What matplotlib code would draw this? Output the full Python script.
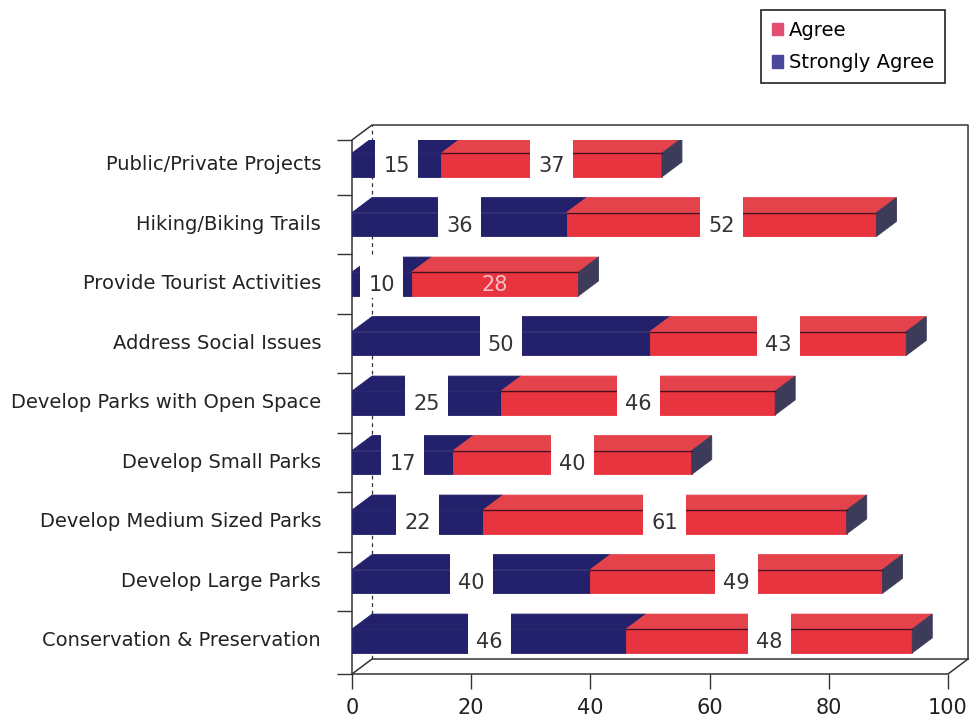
import matplotlib.pyplot as plt
import matplotlib.patches as mpatches

# Data (bottom row first)
categories = ['Conservation & Preservation', 'Develop Large Parks', 'Develop Medium Sized Parks',
              'Develop Small Parks', 'Develop Parks with Open Space', 'Address Social Issues',
              'Provide Tourist Activities', 'Hiking/Biking Trails', 'Public/Private Projects']
strongly_agree = [46, 40, 22, 17, 25, 50, 10, 36, 15]
agree = [48, 49, 61, 40, 46, 43, 28, 52, 37]
plain_agree_labels = ['Provide Tourist Activities']  # label drawn without white box

NAVY = '#23216b'
RED = '#e8343e'
RED_TOP = '#e5434c'
SIDE = '#3c3b5a'
FRAME = '#333333'

# pseudo-3D depth in data units
DX = 3.36
DY = 0.252
H = 0.2
Y0, Y1 = -0.555, 8.42

fig = plt.figure(figsize=(9.69, 7.22), dpi=100)
ax = fig.add_axes([352/969, 1-674/722, 596/969, (674-140)/722])
ax.set_xlim(0, 100)
ax.set_ylim(Y0, Y1)
for s in ax.spines.values():
    s.set_visible(False)

# frame (floor, walls)
lw = 1.1
ax.plot([0, 100, 100+DX], [Y0, Y0, Y0+DY], color=FRAME, lw=lw, clip_on=False)
ax.plot([0, DX, 100+DX], [Y0, Y0+DY, Y0+DY], color=FRAME, lw=lw, clip_on=False)
ax.plot([0, 0, DX, 100+DX, 100+DX], [Y0, Y1, Y1+DY, Y1+DY, Y0+DY], color=FRAME, lw=lw, clip_on=False)
ax.plot([DX, DX], [Y0+DY, Y1+DY], color=FRAME, lw=0.9, ls=(0, (3, 3)), clip_on=False)

ypos = list(range(len(categories)))

# front faces
ax.barh(ypos, strongly_agree, height=2*H, color=NAVY, edgecolor=NAVY, lw=0.6, zorder=3)
ax.barh(ypos, agree, left=strongly_agree, height=2*H, color=RED, edgecolor=RED, lw=0.6, zorder=3)

for i, (sa, a) in enumerate(zip(strongly_agree, agree)):
    tot = sa + a
    yt = i + H
    # top faces
    ax.fill([0, sa, sa+DX, DX], [yt, yt, yt+DY, yt+DY], facecolor=NAVY, edgecolor=NAVY,
            lw=0.6, zorder=3)
    ax.fill([sa, tot, tot+DX, sa+DX], [yt, yt, yt+DY, yt+DY], facecolor=RED_TOP,
            edgecolor=RED_TOP, lw=0.6, zorder=3)
    # side face
    ax.fill([tot, tot+DX, tot+DX, tot], [i-H, i-H+DY, yt+DY, yt], facecolor=SIDE,
            edgecolor=SIDE, lw=0.6, zorder=3)
    ax.plot([sa, tot], [yt, yt], color='#4a1020', lw=1.0, zorder=4)

    # value labels
    for val, left, boxed in [(sa, 0, True), (a, sa, categories[i] not in plain_agree_labels)]:
        cx = left + val / 2
        if boxed:
            ax.add_patch(mpatches.Rectangle((cx - 3.6, i - H - 0.04), 7.2, 2*H + DY + 0.08,
                                            facecolor='white', edgecolor='none', zorder=5))
            ax.text(cx, i - 0.02, str(val), ha='center', va='center', fontsize=15,
                    color='#333333', zorder=6)
        else:
            ax.text(cx, i - 0.02, str(val), ha='center', va='center', fontsize=15,
                    color='#f6c0c8', zorder=6)

    ax.text(-5.2, i, categories[i], ha='right', va='center', fontsize=14, color='#222222')

# ticks
ax.set_xticks([0, 20, 40, 60, 80, 100])
ax.tick_params(axis='x', direction='out', length=11, width=1, color=FRAME, labelsize=15,
               pad=6, labelcolor='#222222')
ax.set_yticks([Y0] + [i + 0.5 for i in range(len(categories) - 1)] + [Y1])
ax.set_yticklabels([])
ax.tick_params(axis='y', direction='out', length=11, width=1, color=FRAME)

# legend
handles = [mpatches.Patch(color='#e34f72', label='Agree'),
           mpatches.Patch(color='#4a479e', label='Strongly Agree')]
leg = fig.legend(handles=handles, loc='upper right', bbox_to_anchor=(945/969, 1-10/722),
                 borderaxespad=0, fontsize=14, handlelength=0.6, handleheight=0.6,
                 handletextpad=0.3, labelspacing=0.7, borderpad=0.55, fancybox=False,
                 framealpha=1, edgecolor='#222222')
leg.get_frame().set_linewidth(1.2)

plt.savefig('out.png', dpi=100)
